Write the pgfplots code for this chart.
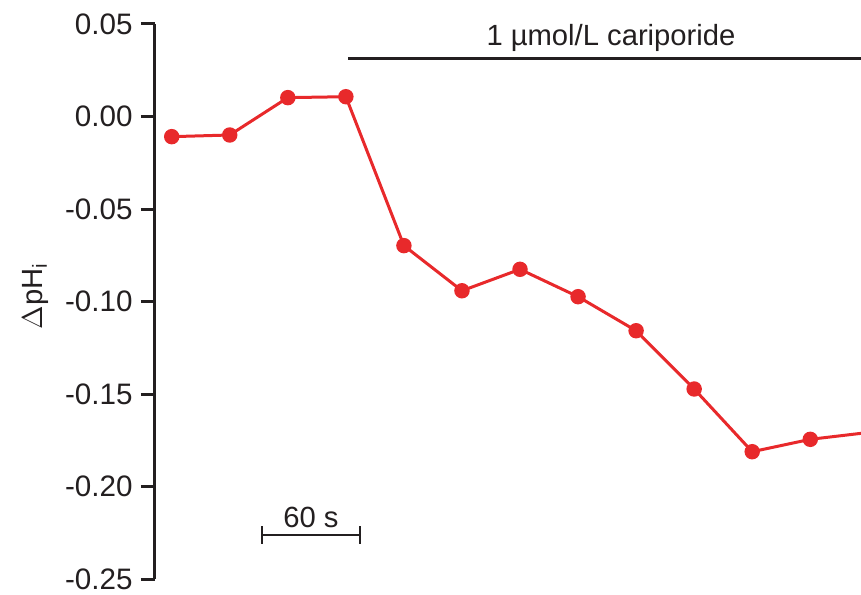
\documentclass[border=0pt]{standalone}
\usepackage{fontspec}
\setmainfont{Liberation Sans}
\usepackage{pgfplots}
\pgfplotsset{compat=1.18}
\definecolor{dred}{HTML}{E8292B}
\definecolor{ink}{HTML}{231F20}
\begin{document}
\begin{tikzpicture}
\begin{axis}[
  scale only axis,
  width=353pt, height=277.5pt,
  xmin=0.712, xmax=12.874,
  ymin=-0.25, ymax=0.05,
  axis y line=left, axis x line=none,
  axis line style={ink, line width=1.5pt, -},
  ytick={-0.25,-0.2,-0.15,-0.1,-0.05,0,0.05},
  yticklabels={-0.25,-0.20,-0.15,-0.10,-0.05,0.00,0.05},
  tick align=outside,
  major tick length=7pt,
  tick style={ink, line width=1.5pt},
  yticklabel style={font=\fontsize{14.8}{16}\selectfont, text=ink, inner sep=0pt, xshift=-4pt},
  clip mode=individual,
]
\addplot[dred, line width=1.5pt, mark=*, mark size=3.1pt, mark options={solid, fill=dred, draw=dred}]
  coordinates {
  (1,-0.0109) (2,-0.0100) (3,0.0102) (4,0.0107) (5,-0.0698) (6,-0.0942)
  (7,-0.0826) (8,-0.0974) (9,-0.1158) (10,-0.1473) (11,-0.1812) (12,-0.1745)
  (13,-0.1708)
  };
\draw[ink, line width=1.5pt] (axis cs:4.037,0.0314) -- (axis cs:12.874,0.0314);
\node[anchor=base, inner sep=0pt, text=ink, font=\fontsize{14.6}{16}\selectfont] at (axis cs:8.567,0.0386) {1 µmol/L cariporide};
\draw[ink, line width=1.3pt] (axis cs:2.555,-0.2262) -- (axis cs:4.243,-0.2262);
\draw[ink, line width=1.3pt] ([yshift=-4.5pt]axis cs:2.555,-0.2262) -- ([yshift=4.5pt]axis cs:2.555,-0.2262);
\draw[ink, line width=1.3pt] ([yshift=-4.5pt]axis cs:4.243,-0.2262) -- ([yshift=4.5pt]axis cs:4.243,-0.2262);
\node[anchor=base, inner sep=0pt, text=ink, font=\fontsize{14.6}{16}\selectfont] at (axis cs:3.399,-0.2219) {60 s};
\coordinate (ylab) at ([xshift=-60pt]rel axis cs:0,0.51);
\coordinate (bbsw) at ([xshift=-77.5pt, yshift=-7.5pt]rel axis cs:0,0);
\coordinate (bbne) at ([yshift=12pt]rel axis cs:1,1);
\end{axis}
\node[rotate=90, anchor=center, inner sep=0pt, text=ink, font=\fontsize{14.6}{16}\selectfont] at (ylab) {$\Delta$pH\textsubscript{i}};
\pgfresetboundingbox
\path (bbsw) rectangle (bbne);
\end{tikzpicture}
\end{document}
